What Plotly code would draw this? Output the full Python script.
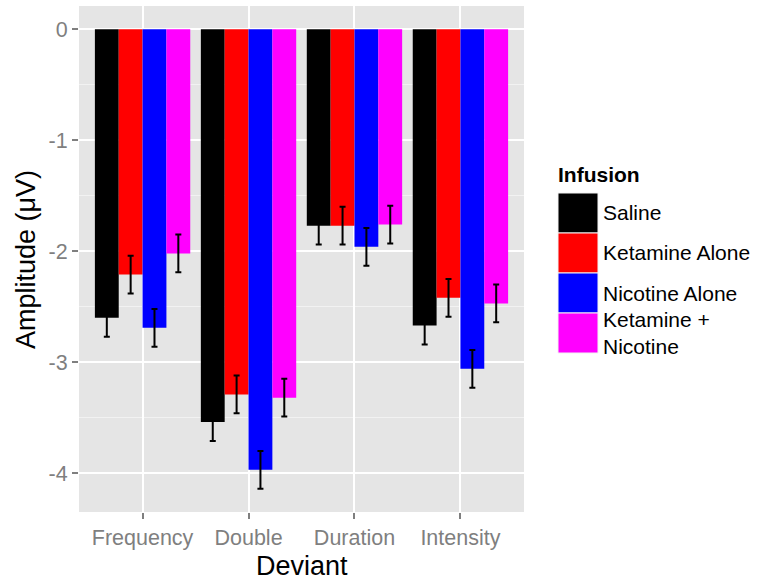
import plotly.graph_objects as go

categories = ["Frequency", "Double", "Duration", "Intensity"]
series_names = ["Saline", "Ketamine Alone", "Nicotine Alone", "Ketamine +<br>Nicotine"]
series_colors = ["#000000", "#FF0000", "#0000FF", "#FF00FF"]

saline = [-2.60, -3.54, -1.77, -2.67]
ketamine = [-2.21, -3.29, -1.77, -2.42]
nicotine = [-2.69, -3.97, -1.96, -3.06]
ket_nic = [-2.02, -3.32, -1.76, -2.47]

saline_err = [0.17, 0.17, 0.17, 0.17]
ketamine_err = [0.17, 0.17, 0.17, 0.17]
nicotine_err = [0.17, 0.17, 0.17, 0.17]
ket_nic_err = [0.17, 0.17, 0.17, 0.17]

yticks = [0, -1, -2, -3, -4]
ytick_labels = ["0", "-1", "-2", "-3", "-4"]

values = [saline, ketamine, nicotine, ket_nic]
errors = [saline_err, ketamine_err, nicotine_err, ket_nic_err]

W, H = 762, 584
L, R, T, B = 79, 524, 6, 512

FONT = "Liberation Sans, Arial, sans-serif"

fig = go.Figure()
for name, col, v, e in zip(series_names, series_colors, values, errors):
    fig.add_trace(go.Bar(
        x=categories, y=v, name=name.replace("<br>", " "),
        marker=dict(color=col, line=dict(width=0)),
        error_y=dict(type="data", array=e, visible=True, color="black",
                     thickness=2, width=3),
        showlegend=False,
    ))

def px_x(px):
    return (px - L) / (R - L)

def px_y(py):
    return (B - py) / (B - T)

shapes = []
annotations = []
# legend (manual, ggplot-style square keys)
key_x0, key_x1 = 558, 598
key_top = 193
key_h = 40
annotations.append(dict(xref="paper", yref="paper", x=px_x(556), y=px_y(175),
                        text="<b>Infusion</b>", showarrow=False, xanchor="left",
                        yanchor="middle", font=dict(family=FONT, size=21, color="black")))
for i, (name, col) in enumerate(zip(series_names, series_colors)):
    y0 = key_top + i * key_h
    y1 = y0 + key_h
    shapes.append(dict(type="rect", xref="paper", yref="paper",
                       x0=px_x(key_x0), x1=px_x(key_x1), y0=px_y(y1), y1=px_y(y0),
                       fillcolor=col, line=dict(color="#F2F2F2", width=1)))
    annotations.append(dict(xref="paper", yref="paper", x=px_x(601), y=px_y((y0 + y1) / 2),
                            text=name, showarrow=False, xanchor="left", yanchor="middle",
                            align="left",
                            font=dict(family=FONT, size=21, color="black")))

# axis titles
annotations.append(dict(xref="paper", yref="paper", x=px_x(301.5), y=px_y(566),
                        text="Deviant", showarrow=False, xanchor="center", yanchor="middle",
                        font=dict(family=FONT, size=27, color="black")))
annotations.append(dict(xref="paper", yref="paper", x=px_x(26), y=px_y(260),
                        text="Amplitude (μV)", showarrow=False, xanchor="center",
                        yanchor="middle", textangle=-90,
                        font=dict(family=FONT, size=27, color="black")))

fig.update_layout(
    width=W, height=H,
    margin=dict(l=L, r=W - R, t=T, b=H - B, pad=0),
    paper_bgcolor="white",
    plot_bgcolor="#E5E5E5",
    barmode="group",
    bargap=0.1,
    bargroupgap=0,
    font=dict(family=FONT, color="#7F7F7F"),
    shapes=shapes,
    annotations=annotations,
    showlegend=False,
)
fig.update_xaxes(
    range=[-0.6, 3.6],
    showgrid=True, gridcolor="white", gridwidth=2,
    ticks="outside", ticklen=6, tickwidth=1.5, tickcolor="#7F7F7F",
    tickfont=dict(family=FONT, size=21.5, color="#7F7F7F"),
    showline=False, zeroline=False,
)
fig.update_yaxes(
    range=[-4.35, 0.21],
    tickvals=yticks, ticktext=ytick_labels,
    showgrid=True, gridcolor="white", gridwidth=2,
    minor=dict(tickvals=[-0.5, -1.5, -2.5, -3.5], showgrid=True,
               gridcolor="#F2F2F2", gridwidth=1, ticks=""),
    ticks="outside", ticklen=6, tickwidth=1.5, tickcolor="#7F7F7F",
    tickfont=dict(family=FONT, size=21.5, color="#7F7F7F"),
    showline=False, zeroline=False,
)

fig.write_html("out.html",
               config={"displayModeBar": False},
               post_script="document.body.style.margin='0';document.body.style.padding='0';")
